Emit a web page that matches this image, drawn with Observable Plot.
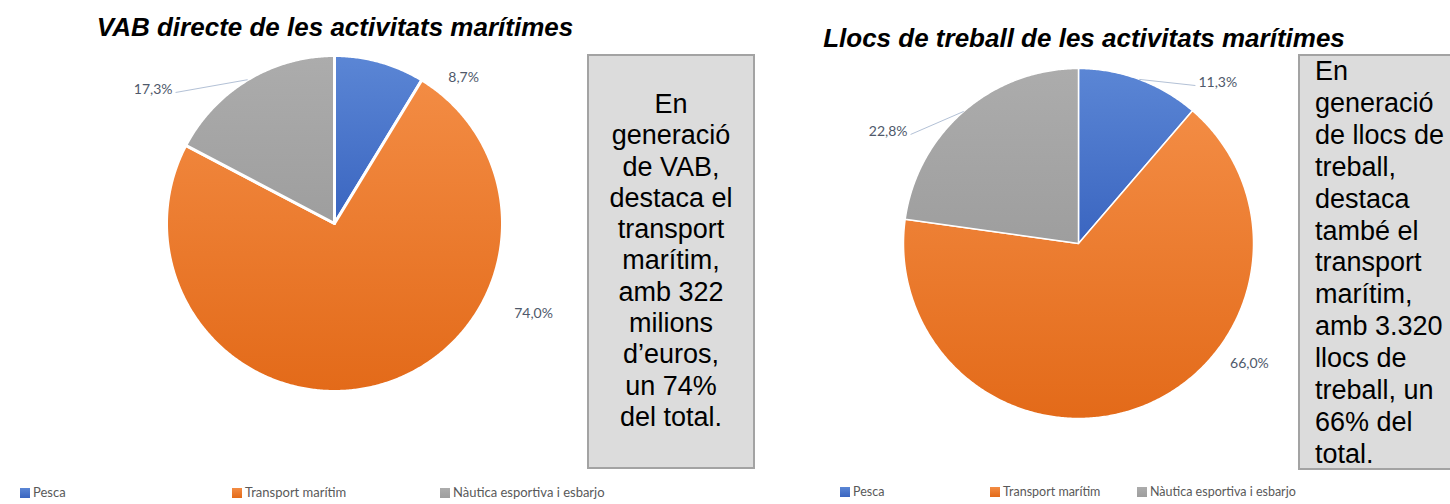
<!DOCTYPE html>
<html><head><meta charset="utf-8">
<script src="https://cdn.jsdelivr.net/npm/d3@7"></script>
<script src="https://cdn.jsdelivr.net/npm/@observablehq/plot@0.6"></script>
<style>
body{margin:0;background:#fff;}
#root{position:relative;width:1450px;height:504px;overflow:hidden;font-family:"Liberation Sans",Arial,sans-serif;}
.title{position:absolute;font-weight:bold;font-style:italic;font-size:26px;line-height:30px;color:#000;white-space:nowrap;transform:translateX(-50%);}
.box{position:absolute;box-sizing:border-box;background:#dcdcdc;border:2px solid #a3a3a3;font-size:27px;line-height:31.3px;color:#000;white-space:nowrap;}
.legend{position:absolute;font-family:Lato,sans-serif;color:#595959;white-space:nowrap;line-height:14px;}
.sw{display:inline-block;width:10px;height:10px;margin-right:3px;vertical-align:-1px;}
.plot{position:absolute;}
</style></head>
<body><div id="root"></div>
<script>
// ---- data ----
const categories = ["Pesca", "Transport marítim", "Nàutica esportiva i esbarjo"];
const vabShares = [8.7, 74.0, 17.3];
const jobShares = [11.3, 66.0, 22.8];
const vabTitle = "VAB directe de les activitats marítimes";
const jobTitle = "Llocs de treball de les activitats marítimes";
const vabNote = ["En", "generació", "de VAB,", "destaca el", "transport", "marítim,", "amb 322", "milions", "d’euros,", "un 74%", "del total."];
const jobNote = ["En", "generació", "de llocs de", "treball,", "destaca", "també el", "transport", "marítim,", "amb 3.320", "llocs de", "treball, un", "66% del", "total."];

// ---- styles / layout ----
const gradients = [["#5b86d5", "#3a65c0"], ["#f38c44", "#e36a19"], ["#acacac", "#9e9e9e"]];
const labelColor = "#4f596b";
const vabLabelLayout = [
  {angle: 41.5, radius: 1.16, anchor: "middle"},
  {angle: 114.3, radius: 1.30, anchor: "middle"},
  {angle: 309.5, radius: 1.226, anchor: "end", leader: true}
];
const jobLabelLayout = [
  {angle: 36.5, radius: 1.123, anchor: "start", leader: true},
  {angle: 125.1, radius: 1.194, anchor: "middle"},
  {angle: 303.0, radius: 1.144, anchor: "end", leader: true}
];
const fmt = v => v.toFixed(1).replace(".", ",") + "%";
const rad = d => d * Math.PI / 180;

function pieChart({values, r, width, height, layout, strokeWidth, id}) {
  const arcs = d3.pie().sort(null)(values);
  const pts = [];
  arcs.forEach((a, i) => {
    pts.push({k: i, x: 0, y: 0});
    const n = Math.max(2, Math.ceil((a.endAngle - a.startAngle) / (Math.PI / 360)));
    for (let j = 0; j <= n; j++) {
      const t = a.startAngle + (a.endAngle - a.startAngle) * j / n;
      pts.push({k: i, x: Math.sin(t), y: Math.cos(t)});
    }
    pts.push({k: i, x: 0, y: 0});
  });
  const labels = arcs.map((a, i) => {
    const L = layout[i];
    const mid = (a.startAngle + a.endAngle) / 2;
    return {
      text: fmt(values[i]),
      x: Math.sin(rad(L.angle)) * L.radius,
      y: Math.cos(rad(L.angle)) * L.radius,
      mx: Math.sin(mid), my: Math.cos(mid),
      anchor: L.anchor, leader: !!L.leader
    };
  });
  const defs = () => {
    const d = d3.create("svg:defs");
    gradients.forEach((c, i) => {
      const g = d.append("linearGradient").attr("id", `${id}-g${i}`)
        .attr("x1", 0).attr("y1", 0).attr("x2", 0).attr("y2", 1);
      g.append("stop").attr("offset", 0).attr("stop-color", c[0]);
      g.append("stop").attr("offset", 1).attr("stop-color", c[1]);
    });
    return d.node();
  };
  const textOpts = a => ({
    x: "x", y: "y", text: "text", textAnchor: a,
    dx: a === "end" ? -3 : a === "start" ? 3 : 0,
    dy: a === "middle" ? 0 : -3,
    fill: labelColor, fontSize: 14, fontFamily: "Lato, sans-serif"
  });
  return Plot.plot({
    width, height, margin: 0,
    x: {domain: [-width / 2 / r, width / 2 / r], axis: null},
    y: {domain: [-height / 2 / r, height / 2 / r], axis: null},
    color: {type: "identity"},
    style: {overflow: "visible", background: "transparent"},
    marks: [
      defs,
      Plot.line(pts, {x: "x", y: "y", z: "k", fill: d => `url(#${id}-g${d.k})`,
        stroke: "white", strokeWidth, strokeLinejoin: "round", curve: "linear"}),
      Plot.link(labels.filter(d => d.leader), {x1: "x", y1: "y", x2: "mx", y2: "my",
        stroke: "#b3c1d6", strokeWidth: 1}),
      Plot.text(labels.filter(d => d.anchor === "middle"), textOpts("middle")),
      Plot.text(labels.filter(d => d.anchor === "start"), textOpts("start")),
      Plot.text(labels.filter(d => d.anchor === "end"), textOpts("end"))
    ]
  });
}

const root = document.getElementById("root");
function add(html, cls, style) {
  const el = document.createElement("div");
  el.className = cls; el.innerHTML = html; Object.assign(el.style, style);
  root.appendChild(el); return el;
}

// titles
add(vabTitle, "title", {left: "335px", top: "12px"});
add(jobTitle, "title", {left: "1084px", top: "23px"});

// pies
const p1 = pieChart({values: vabShares, r: 168, width: 560, height: 420, layout: vabLabelLayout, strokeWidth: 3, id: "vab"});
p1.classList.add("plot"); Object.assign(p1.style, {left: "54px", top: "13px"}); root.appendChild(p1);
const p2 = pieChart({values: jobShares, r: 175, width: 560, height: 420, layout: jobLabelLayout, strokeWidth: 1.5, id: "job"});
p2.classList.add("plot"); Object.assign(p2.style, {left: "798px", top: "33px"}); root.appendChild(p2);

// note boxes
add(vabNote.join("<br>"), "box", {left: "587px", top: "54px", width: "168px", height: "415px", textAlign: "center", paddingTop: "33px"});
add(jobNote.join("<br>"), "box", {left: "1298px", top: "54px", width: "160px", height: "416px", textAlign: "left", paddingLeft: "15px", paddingTop: "0px", lineHeight: "31.9px"});

// legends
const swatch = i => `<span class="sw" style="background:linear-gradient(${gradients[i][0]},${gradients[i][1]})"></span>`;
[20, 232, 440].forEach((x, i) => add(swatch(i) + categories[i], "legend", {left: x + "px", top: "485px", fontSize: "13px"}));
[840, 990, 1137].forEach((x, i) => add(swatch(i) + categories[i], "legend", {left: x + "px", top: "485px", fontSize: "12.5px"}));
</script>
</body></html>
